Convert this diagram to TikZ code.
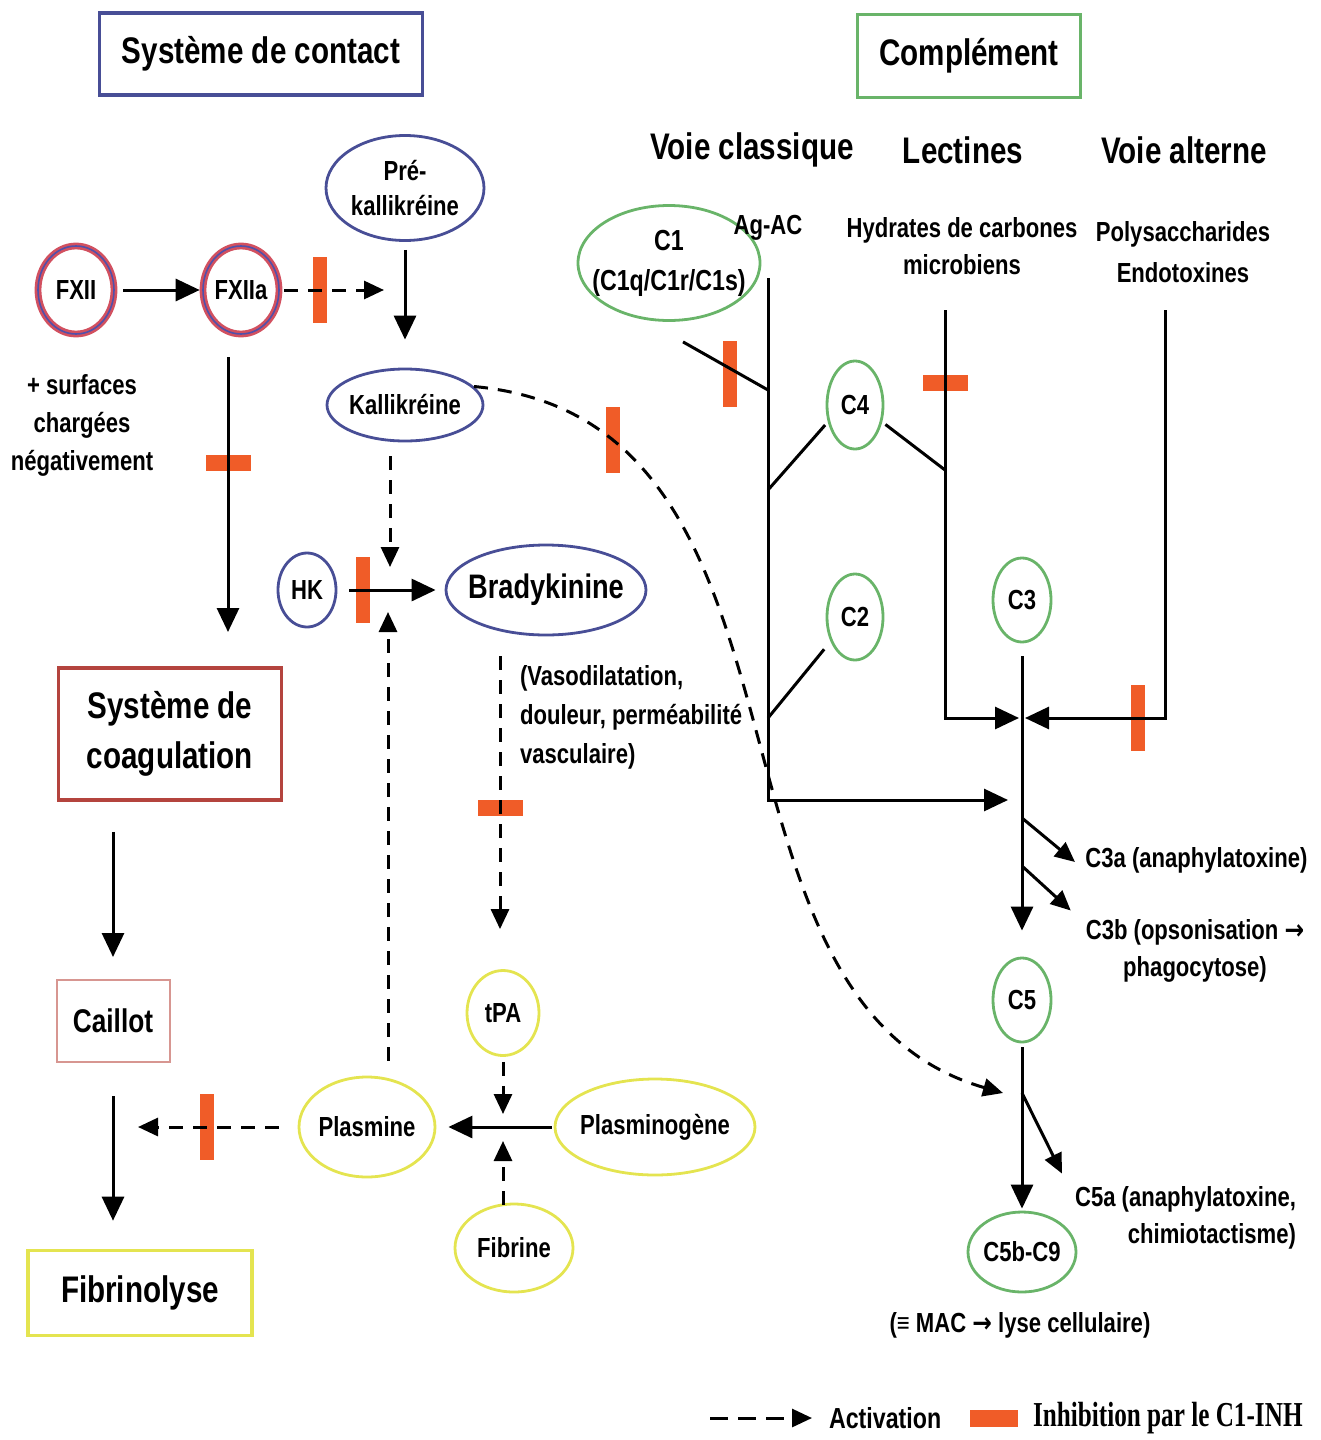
\documentclass[tikz,border=0pt]{standalone}
\usepackage{fontspec}
\setmainfont{Liberation Sans}[FakeStretch=0.8]
\newfontfamily\legserif{Liberation Serif}[FakeStretch=0.72]
\newfontfamily\arrfont{DejaVu Sans}[FakeStretch=0.85]
\usetikzlibrary{arrows.meta,shapes.geometric,calc}
\definecolor{cblue}{RGB}{72,78,150}
\definecolor{cred}{RGB}{180,68,62}
\definecolor{fxred}{RGB}{210,80,95}
\definecolor{fxblue}{RGB}{80,80,170}
\definecolor{cpink}{RGB}{215,150,145}
\definecolor{cyellow}{RGB}{228,228,80}
\definecolor{cgreen}{RGB}{105,180,105}
\definecolor{inh}{RGB}{240,92,40}
\newcommand{\zl}[1]{\hbox to 0pt{\hss #1\hss}}
\newcommand{\rarr}{{\arrfont\bfseries →}}
\begin{document}
\begin{tikzpicture}[x=0.5pt,y=-0.5pt,
  fs/.style={font=\fontsize{13.8}{19}\selectfont\bfseries},
  ftitle/.style={font=\fontsize{18.5}{25}\selectfont\bfseries},
  ell/.style 2 args={ellipse, draw, line width=1.4pt, inner sep=0pt, minimum width=#1, minimum height=#2, fs},
  box/.style={rectangle, line width=1.8pt, inner sep=0pt, ftitle, align=center},
  line/.style={line width=1.5pt},
  arr/.style={line width=1.5pt, -{Triangle[length=12pt,width=11pt]}},
  sarr/.style={line width=1.5pt, -{Triangle[length=10pt,width=9pt]}},
  darr/.style={line width=1.5pt, dash pattern=on 7pt off 5pt, -{Triangle[length=10pt,width=9pt]}},
  vbar/.style={rectangle, fill=inh, inner sep=0pt, minimum width=7pt, minimum height=33pt},
  hbar/.style={rectangle, fill=inh, inner sep=0pt, minimum width=22.5pt, minimum height=8pt},
]
\useasboundingbox (0,0) rectangle (1321,1440);

% ---------- titles ----------
\node[box, draw=cblue, minimum width=161.5pt, minimum height=41pt] (tcontact) at (261,54) {Système de contact};
\node[box, draw=cgreen, minimum width=111.5pt, minimum height=41.5pt] (tcompl) at (969,56) {Complément};
\node[box, draw=cred, minimum width=111.5pt, minimum height=66pt] (tcoag) at (170,734) {Système de\\coagulation};
\node[box, draw=cpink, line width=1pt, minimum width=56.5pt, minimum height=41pt, font=\fontsize{16.4}{20}\selectfont\bfseries] (caillot) at (113,1021) {Caillot};
\node[box, draw=cyellow, minimum width=112pt, minimum height=42.5pt] (fibrinolyse) at (140,1293) {Fibrinolyse};

\node[ftitle] (voiecl) at (752,150) {Voie classique};
\node[ftitle] (lect) at (963,150) {Lectines};
\node[ftitle] (voieal) at (1184,150) {Voie alterne};

% ---------- contact system ----------
\node[ell={38pt}{44pt}, draw=fxred, double=fxblue, double distance=0.8pt, line width=1.3pt] (fxii) at (76,290) {\zl{FXII}};
\node[ell={38pt}{44pt}, draw=fxred, double=fxblue, double distance=0.8pt, line width=1.3pt] (fxiia) at (241,290) {\zl{FXIIa}};
\node[ell={79pt}{52.5pt}, draw=cblue, font=\fontsize{13.8}{17.5}\selectfont\bfseries] (prek) at (405,188) {\vbox{\zl{Pré-}\zl{kallikréine}}};
\node[ell={78pt}{36pt}, draw=cblue] (kall) at (405,405) {\zl{Kallikréine}};
\node[ell={29pt}{37pt}, draw=cblue] (hk) at (307,590) {\zl{HK}};
\node[ell={100pt}{45pt}, draw=cblue, font=\fontsize{17}{20}\selectfont\bfseries] (brady) at (546,590) {\zl{Bradykinine}};
\node[fs, align=center] (surf) at (82,425) {+ surfaces\\chargées\\négativement};
\node[fs, align=left, anchor=west, font=\fontsize{13.8}{19.5}\selectfont\bfseries] (vaso) at (513,717) {(Vasodilatation,\\douleur, perméabilité\\vasculaire)};

% ---------- fibrinolysis ----------
\node[ell={68pt}{50pt}, draw=cyellow] (plasmine) at (367,1127) {\zl{Plasmine}};
\node[ell={100pt}{48pt}, draw=cyellow] (plasminogene) at (655,1127) {\zl{Plasminogène}};
\node[ell={36pt}{42.5pt}, draw=cyellow] (tpa) at (503,1013) {\zl{tPA}};
\node[ell={59pt}{44pt}, draw=cyellow] (fibrine) at (514,1248) {\zl{Fibrine}};

% ---------- complement ----------
\node[ell={91pt}{57.5pt}, draw=cgreen, font=\fontsize{14.5}{20}\selectfont\bfseries] (c1) at (669,263) {\vbox{\zl{C1}\zl{(C1q/C1r/C1s)}}};
\node[ell={28pt}{44pt}, draw=cgreen] (c4) at (855,405) {\zl{C4}};
\node[ell={28pt}{43pt}, draw=cgreen] (c2) at (855,617) {\zl{C2}};
\node[ell={29pt}{42pt}, draw=cgreen] (c3) at (1022,600) {\zl{C3}};
\node[ell={29pt}{42pt}, draw=cgreen] (c5) at (1022,1000) {\zl{C5}};
\node[ell={54pt}{40pt}, draw=cgreen] (c5b) at (1022,1252) {\zl{C5b-C9}};

\node[fs] (agac) at (768,228) {Ag-AC};
\node[fs, align=center, font=\fontsize{13.8}{18.5}\selectfont\bfseries] (hydr) at (962,246) {Hydrates de carbones\\microbiens};
\node[fs, align=center, font=\fontsize{13.8}{20.5}\selectfont\bfseries] (poly) at (1183,252) {Polysaccharides\\Endotoxines};
\node[fs, anchor=west, inner sep=0pt] (c3a) at (1085,860) {C3a (anaphylatoxine)};
\node[fs, align=center, font=\fontsize{13.8}{18.5}\selectfont\bfseries] (c3b) at (1195,951) {C3b (opsonisation \rarr\\phagocytose)};
\node[fs, align=right, anchor=east, font=\fontsize{13.8}{18.5}\selectfont\bfseries] (c5a) at (1303,1218) {C5a (anaphylatoxine,\\chimiotactisme)};
\node[fs] (mac) at (1020,1325) {(≡ MAC \rarr\ lyse cellulaire)};

% ---------- inhibition bars (under the lines) ----------
\node[vbar] (ifx) at (320,290) {};
\node[hbar] (ifxd) at (228,463) {};
\node[vbar] (ihk) at (363,590) {};
\node[hbar] (ibrady) at (500,808) {};
\node[vbar] (iplas) at (207,1127) {};
\node[vbar] (ic1) at (730,374) {};
\node[hbar] (ilec) at (945,383) {};
\node[vbar] (ialt) at (1138,718) {};
\coordinate (c5in) at (1003,1093);
\path (kall.15) .. controls (840,420) and (680,1000) .. (c5in) node[vbar, pos=0.16] (ikal) {};

% ---------- connectors: contact system ----------
\draw[arr, shorten <=4pt, shorten >=1pt] (fxii) -- (fxiia);
\coordinate (kin) at (384,290);
\draw[darr, shorten <=2pt] (fxiia) -- (kin);
\draw[arr, shorten <=4pt, shorten >=14pt] (prek) -- (kall);
\coordinate (fxdown) at (228,632);
\draw[arr] ($(fxiia.south)+(-13,22)$) -- (fxdown);
\coordinate (kdown) at (390,567);
\draw[darr] ($(kall.south)+(-15,14)$) -- (kdown);
\draw[arr, shorten <=6pt, shorten >=4.5pt] (hk) -- (brady);
\coordinate (pup) at (388,612);
\draw[darr] ($(plasmine.north)+(21,-15)$) -- (pup);
\draw[darr] (kall.15) .. controls (840,420) and (680,1000) .. (c5in);
\draw[darr] ($(brady.south)+(-46,20)$) -- ($(tpa.north)+(-3,-40)$);

% ---------- connectors: coagulation / fibrinolysis ----------
\draw[arr] ($(tcoag.south -| caillot.north)+(0,30)$) -- ($(caillot.north)+(0,-22)$);
\draw[arr] ($(caillot.south)+(0,33)$) -- ($(caillot.south |- fibrinolyse.north)+(0,-28)$);
\coordinate (plleft) at (138,1127);
\draw[darr, shorten <=9.5pt] (plasmine.west) -- (plleft);
\draw[arr, shorten <=1pt, shorten >=6pt] (plasminogene) -- (plasmine);
\coordinate (jp1) at (503,1114);
\draw[darr, shorten <=2.5pt] (tpa) -- (jp1);
\coordinate (jp2) at (503,1141);
\draw[darr] ($(fibrine.north)+(-11,2)$) -- (jp2);

% ---------- connectors: complement ----------
\coordinate (agtop) at (768,278);
\coordinate (agend) at (1008,800);
\draw[arr] (agtop) |- (agend);
\coordinate (c1j) at (768,390);
\draw[line] ($(c1.south)+(14,20)$) -- (c1j);
\coordinate (agc4) at (768,490);
\draw[line, shorten <=2pt] (c4.212) -- (agc4);
\coordinate (lec4) at (945,470);
\draw[line, shorten <=2pt] (c4.-32) -- (lec4);
\coordinate (lectop) at (945,310);
\coordinate (lecend) at (1019,718);
\draw[arr] (lectop) |- (lecend);
\coordinate (agc2) at (768,718);
\draw[line, shorten <=5pt] (c2.225) -- (agc2);
\coordinate (altop) at (1165,310);
\coordinate (altend) at (1025,718);
\draw[arr] (altop) |- (altend);
\draw[arr, shorten <=6.5pt, shorten >=13pt] (c3) -- (c5);
\coordinate (b1) at (1022,818);
\draw[sarr] (b1) -- ($(c3a.west)+(-10,2)$);
\coordinate (b2) at (1022,866);
\draw[sarr] (b2) -- ($(c3b.north west)+(-8,-2)$);
\draw[arr, shorten <=2pt, shorten >=1pt] (c5) -- (c5b);
\coordinate (b3) at (1022,1093);
\draw[sarr] (b3) -- ($(c5a.north west)+(-6,-6)$);

% ---------- legend ----------
\coordinate (lg1) at (710,1418);
\coordinate (lg2) at (812,1418);
\draw[darr, dash pattern=on 9pt off 5pt] (lg1) -- (lg2);
\node[anchor=west, font=\fontsize{14.5}{18}\selectfont\bfseries] (lgact) at (822,1418) {Activation};
\node[hbar, minimum width=24pt, minimum height=8.5pt] (lgbar) at (994,1418) {};
\node[anchor=west, font=\legserif\fontsize{17.5}{20}\selectfont\bfseries] (lginh) at (1026,1418) {Inhibition par le C1-INH};
\end{tikzpicture}
\end{document}
